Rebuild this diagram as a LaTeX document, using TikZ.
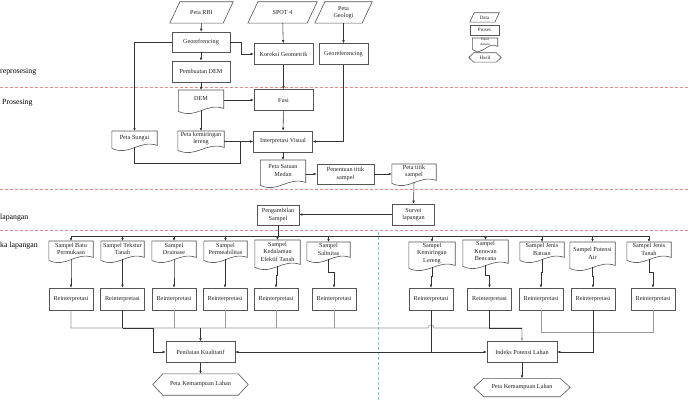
\documentclass[tikz,border=0pt]{standalone}
\usepackage{fontspec}
\setmainfont{Liberation Serif}
\usetikzlibrary{calc,arrows.meta}
\definecolor{bx}{HTML}{555555}
\definecolor{lnc}{HTML}{333333}
\definecolor{lgc}{HTML}{9A9A9A}
\definecolor{tx}{HTML}{222222}
\definecolor{rdc}{HTML}{E88A8A}
\definecolor{cyc}{HTML}{7FC8D8}
\newcommand\fs{\fontsize{6.2}{7.6}\selectfont}
\tikzset{
  box/.style={draw=bx, line width=0.6pt, inner sep=0pt, align=center, font=\fs, text=tx},
  plain/.style={draw=none, inner sep=0pt, align=center, font=\fs, text=tx},
  boxline/.style={draw=bx, line width=0.6pt},
  ln/.style={draw=lnc, line width=0.55pt},
  lng/.style={draw=lgc, line width=0.6pt},
  arr/.style={ln, -{Latex[length=3pt,width=2.6pt]}},
  arrg/.style={lng, -{Latex[length=3pt,width=2.6pt]}},
  divider/.style={draw=rdc, line width=0.5pt, dash pattern=on 3pt off 2pt},
  side/.style={anchor=west, inner sep=0pt, font=\fontsize{7.8}{9}\selectfont, text=black},
}
\newcommand\docnode[7][]{%
  \node[plain, anchor=north, minimum width=#5pt, minimum height=#6pt, #1] (#2) at (#3,#4) {#7};
  \draw[boxline] (#2.north west) -- (#2.north east) -- ($(#2.south east)+(0pt,-1pt)$)
    .. controls ($(#2.south west)!0.6!(#2.south east)+(0pt,5pt)$) and ($(#2.south west)!0.4!(#2.south east)+(0pt,-12pt)$)
    .. ($(#2.south west)+(0pt,-4pt)$) -- cycle;}
\newcommand\paranode[7][]{%
  \node[plain, minimum width=#5pt, minimum height=#6pt, #1] (#2) at (#3,#4) {#7};
  \draw[boxline] (#2.south west) -- ($(#2.north west)+({#6*0.48pt},0pt)$) -- (#2.north east)
    -- ($(#2.south east)+({-#6*0.48pt},0pt)$) -- cycle;}
\newcommand\hexnode[8][]{%
  \node[plain, minimum width=#5pt, minimum height=#6pt, #1] (#2) at (#3,#4) {#8};
  \draw[boxline] (#2.west) -- ($(#2.north west)+(#7pt,0pt)$) -- ($(#2.north east)+(-#7pt,0pt)$)
    -- (#2.east) -- ($(#2.south east)+(-#7pt,0pt)$) -- ($(#2.south west)+(#7pt,0pt)$) -- cycle;}
\begin{document}
\begin{tikzpicture}[x=1pt,y=-1pt]
\useasboundingbox (0,0) rectangle (690,401);
\fill[white] (0,0) rectangle (690,401);

% dividers
\draw[divider] (0,87) -- (690,87);
\draw[divider] (0,189) -- (690,189);
\draw[divider] (0,230) -- (690,230);
\draw[draw=cyc, line width=0.5pt, dash pattern=on 3pt off 2pt] (378,232) -- (378,401);

% side labels
\node[side] (lab1) at (0,72) {reprosesing};
\node[side] (lab2) at (2,103) {Prosesing};
\node[side] (lab3) at (0,218) {lapangan};
\node[side] (lab4) at (0,246) {ka lapangan};

% top inputs
\paranode{rbi}{201.5}{12.5}{63}{21}{Peta RBI}
\paranode{spot}{282.5}{12.5}{69}{21}{SPOT 4}
\paranode{geo}{343.5}{12.5}{57}{21}{Peta\\Geologi}

\node[box, minimum width=58pt, minimum height=20pt] (georef) at (201,42) {Georefrencing};
\node[box, minimum width=59pt, minimum height=21pt] (kor) at (283.5,54) {Koreksi Geometrik};
\node[box, minimum width=49pt, minimum height=21pt] (georef2) at (343.5,54) {Georeferencing};
\node[box, minimum width=58pt, minimum height=21pt] (demp) at (201,71.5) {Pembuatan DEM};

\docnode{dem}{201}{90}{45}{17}{DEM}
\node[box, minimum width=59pt, minimum height=21pt] (fusi) at (283.5,100) {Fusi};
\docnode{sungai}{134.5}{131}{45}{13}{Peta Sungai}
\docnode{lereng}{201}{131}{46}{15}{Peta kemiringan\\lereng}
\node[box, minimum width=59pt, minimum height=21pt] (iv) at (283,141.5) {Interpretasi Visual};
\docnode{psm}{283}{160}{45}{21}{Peta Satuan\\Medan}
\node[box, minimum width=57pt, minimum height=20pt] (pts) at (345.5,174) {Penentuan titik\\sampel};
\docnode{ptk}{414}{164}{44}{15}{Peta titik\\sampel}
\node[box, minimum width=42pt, minimum height=21pt] (survei) at (413.5,214.5) {Survei\\lapangan};
\node[box, minimum width=42pt, minimum height=20pt] (ambil) at (278,215) {Pengambilan\\Sampel};

% legend
\paranode[font=\fontsize{5}{6}\selectfont]{lgdata}{484.5}{17.5}{29}{9}{Data}
\node[box, minimum width=29pt, minimum height=10pt, font=\fontsize{5}{6}\selectfont] (lgproses) at (484.5,30) {Proses};
\docnode[font=\fontsize{3.6}{4.2}\selectfont]{lgantara}{485}{38}{25}{7}{Hasil\\Antara}
\hexnode[font=\fontsize{5}{6}\selectfont]{lghasil}{485}{57.5}{32}{9}{5}{Hasil}

% samples
\docnode{s1}{71}{241}{44}{15}{Sampel Batu\\Permukaan}
\docnode{s2}{122.5}{241}{43}{15}{Sampel Tekstur\\Tanah}
\docnode{s3}{174}{241}{44}{15}{Sampel\\Drainase}
\docnode{s4}{225.5}{241}{43}{15}{Sampel\\Permeabilitas}
\docnode{s5}{277.5}{240}{45}{23}{Sampel\\Kedalaman\\Efektif Tanah}
\docnode{s6}{328.5}{242}{43}{14}{Sampel\\Salinitas}
\docnode{s7}{432}{242}{46}{22}{Sampel\\Kemiringan\\Lereng}
\docnode{s8}{485.5}{240}{45}{22}{Sampel\\Kerawan\\Bencana}
\docnode{s9}{542}{242}{44}{14}{Sampel Jenis\\Batuan}
\docnode{s10}{592.5}{242}{45}{22}{Sampel Potensi\\Air}
\docnode{s11}{649}{242}{44}{14}{Sampel Jenis\\Tanah}

\foreach \i/\x in {1/71,2/122.5,3/174,4/225,5/276,6/334,7/431,8/489.5,9/541,10/593,11/653}{
  \node[box, minimum width=44pt, minimum height=22pt] (r\i) at (\x,299) {Reinterpretasi};
}

\node[box, minimum width=69pt, minimum height=21pt] (pk) at (200.5,352) {Penilaian Kualitatif};
\node[box, minimum width=70pt, minimum height=21pt] (ipl) at (522,352) {Indeks Potensi Lahan};
\hexnode{hex1}{200.5}{384.5}{95}{21}{10}{Peta Kemampuan Lahan}
\hexnode{hex2}{522}{387.5}{96}{18}{10}{Peta Kemampuan Lahan}

% helper coordinates
\coordinate (j1) at (240,163);
\coordinate (busy) at (0,236);
\coordinate (ya) at (0,328);
\coordinate (yb) at (0,332);
\coordinate (hopL) at ($(r7.south |- ya)+(-3pt,0pt)$);
\coordinate (hopR) at ($(r7.south |- ya)+(3pt,0pt)$);

% connectors top
\draw[arr] (rbi) -- (georef);
\draw[arr] (georef) -- (demp);
\draw[arr] (georef.east) -- ++(11,0) |- (kor.west);
\draw[arr] (georef.west) -| (sungai.north);
\draw[arr] (spot) -- (kor);
\draw[arr] (geo) -- (georef2);
\draw[arr] (kor) -- (fusi);
\draw[arr] (demp) -- (dem);
\draw[arr] (dem.east |- fusi.west) -- (fusi.west);
\draw[arr] ($(dem.south)+(0pt,-3pt)$) -- (lereng.north);
\draw[arr] (fusi) -- (iv);
\draw[arr] (lereng.east |- iv.west) -- (iv.west);
\draw[ln] ($(sungai.south)+(0pt,-3pt)$) |- (j1) -- (j1 |- iv.west);
\draw[arr] (georef2.south) |- (iv.east);
\draw[arr] (iv) -- (psm);
\draw[arr] (pts.west -| psm.east) -- (pts.west);
\draw[arr] (pts.east) -- (pts.east -| ptk.west);
\draw[arr] ($(ptk.south)+(0pt,-3pt)$) -- (survei.north);
\draw[arr] (survei.west) -- (survei.west -| ambil.east);

% bus to samples
\draw[ln] (ambil.south) -- (ambil.south |- busy);
\draw[ln] (s1.north |- busy) -- (s11.north |- busy);
\foreach \i in {1,...,11}{
  \draw[arr] (s\i.north |- busy) -- (s\i.north);
  \draw[arr] ($(s\i.south)+(0pt,-3pt)$) |- ($(s\i.south)!.5!(r\i.north)$) -| (r\i.north);
}

% bottom collection
\draw[arrg] (r1.south) -- (r1.south |- ya) -- (hopL) .. controls ($(hopL)+(0pt,4pt)$) and ($(hopR)+(0pt,4pt)$) .. (hopR) -- (ipl.north |- ya) -- (ipl.north);
\foreach \i in {3,4,5,6}{ \draw[lng] (r\i.south) -- (r\i.south |- ya); }
\draw[ln] (r2.south) -- (r2.south |- ya);
\draw[arr] (r2.south |- ya) -| ($(pk.west)+(-12pt,0pt)$) -- (pk.west);
\draw[arr] (pk.north |- ya) -- (pk.north);
\draw[ln] (r8.south) -- (r8.south |- ya) -- (ipl.north |- ya);
\draw[arr] (r7.south) -- (r7.south |- pk.east) -- (pk.east);
\draw[arr] (r7.south |- ipl.west) -- (ipl.west);
\draw[lng] (r9.south) -- (r9.south |- yb) -- (r11.south |- yb) -- (r11.south);
\draw[arr] (r10.south) |- (ipl.east);
\draw[arr] (pk) -- (hex1);
\draw[arr] (ipl) -- (hex2);
\end{tikzpicture}
\end{document}
